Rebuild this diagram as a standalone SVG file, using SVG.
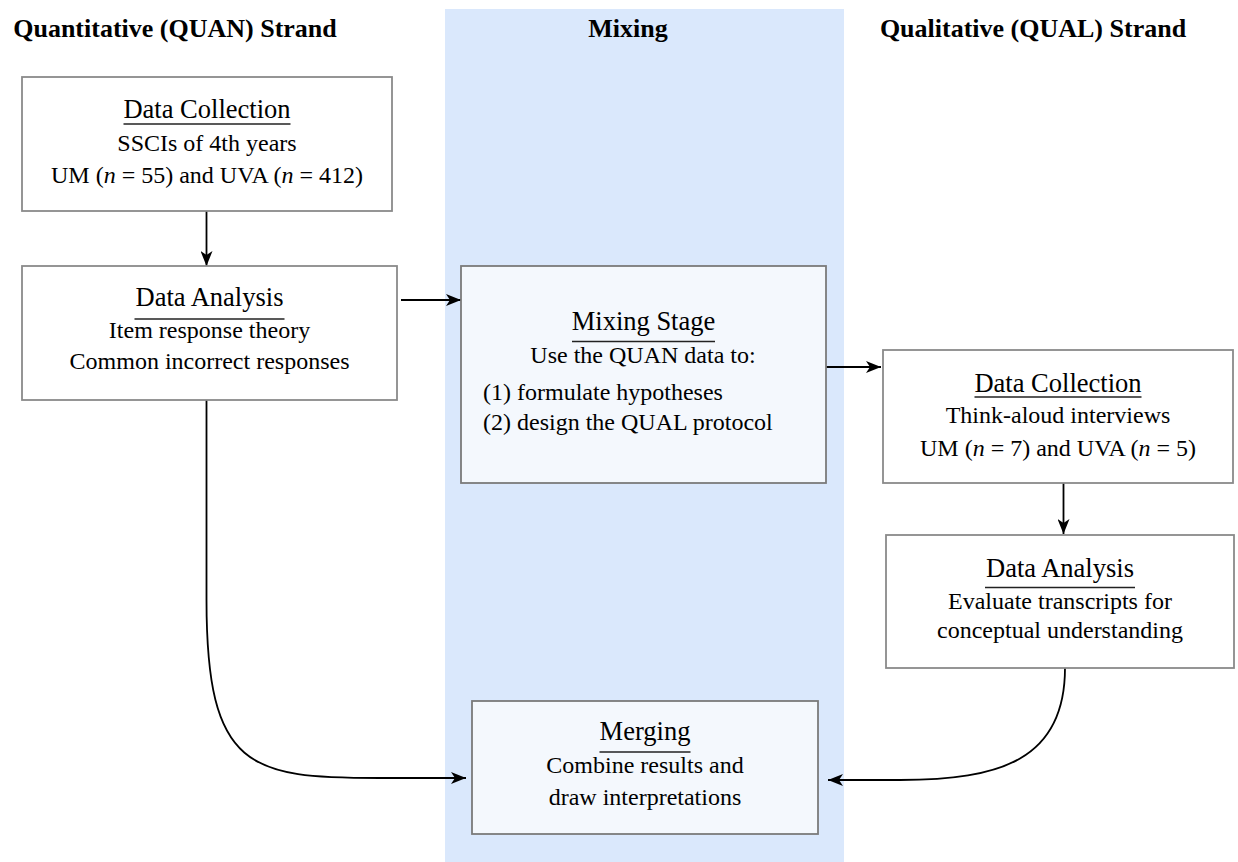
<svg xmlns="http://www.w3.org/2000/svg" width="1238" height="862" viewBox="0 0 1238 862">
  <style>
    .hdr { font-size: 26px; font-weight: bold; text-anchor: middle; }
    .ttl { font-size: 26.5px; text-anchor: middle; }
    .txt { font-size: 24px; text-anchor: middle; }
    .lst { font-size: 24px; text-anchor: start; }
    .box { fill: #ffffff; stroke: #8a8a8a; stroke-width: 1.8; }
    .box-mix { fill: #f4f8fd; stroke: #7a7a7a; stroke-width: 1.8; }
    .rule { stroke: #222; stroke-width: 1.5; }
    .edge { fill: none; stroke: #000; stroke-width: 1.8; marker-end: url(#arrow); }
    .it { font-style: italic; }
  </style>
  <defs>
    <marker id="arrow" viewBox="0 0 15 12" refX="15" refY="6" markerWidth="15" markerHeight="12" markerUnits="userSpaceOnUse" orient="auto">
      <path d="M0,0 L15,6 L0,12 L4,6 Z" fill="#000"/>
    </marker>
  </defs>

  <rect width="1238" height="862" fill="#ffffff"/>

  <!-- middle band -->
  <rect id="mixing-band" x="445" y="9" width="399" height="853" fill="#dae8fc"/>

  <g font-family="'Liberation Serif', 'DejaVu Serif', serif" fill="#000">
    <!-- column headers -->
    <g id="headers">
      <text class="hdr" x="175" y="37">Quantitative (QUAN) Strand</text>
      <text class="hdr" x="628" y="37">Mixing</text>
      <text class="hdr" x="1033" y="37">Qualitative (QUAL) Strand</text>
    </g>

    <!-- connectors -->
    <g id="connectors">
      <line class="edge" x1="206.5" y1="211" x2="206.5" y2="266"/>
      <line class="edge" x1="401" y1="300" x2="461" y2="300"/>
      <line class="edge" x1="826" y1="367" x2="881" y2="367"/>
      <line class="edge" x1="1063.5" y1="483" x2="1063.5" y2="534"/>
      <path class="edge" d="M206.5,400 L206.5,600 C206.5,770 250,778 380,778 L466,778"/>
      <path class="edge" d="M1065,668 C1065,760 1000,780 900,780 L828,780"/>
    </g>

    <g id="quan-collection">
      <rect class="box" x="22" y="77" width="370" height="134"/>
      <text class="ttl" x="207" y="118">Data Collection</text>
      <line class="rule" x1="123.5" y1="124" x2="290.5" y2="124"/>
      <text class="txt" x="207" y="151">SSCIs of 4th years</text>
      <text class="txt" x="207" y="183">UM (<tspan class="it">n</tspan> = 55) and UVA (<tspan class="it">n</tspan> = 412)</text>
    </g>

    <g id="quan-analysis">
      <rect class="box" x="22" y="266" width="375" height="134"/>
      <text class="ttl" x="209.5" y="306">Data Analysis</text>
      <line class="rule" x1="134.5" y1="319" x2="284.5" y2="319"/>
      <text class="txt" x="209.5" y="338">Item response theory</text>
      <text class="txt" x="209.5" y="369">Common incorrect responses</text>
    </g>

    <g id="mixing-stage">
      <rect class="box-mix" x="461" y="266" width="365" height="217"/>
      <text class="ttl" x="643.5" y="330">Mixing Stage</text>
      <line class="rule" x1="572" y1="341.5" x2="715" y2="341.5"/>
      <text class="txt" x="643" y="363">Use the QUAN data to:</text>
      <text class="lst" x="483" y="400">(1) formulate hypotheses</text>
      <text class="lst" x="483" y="430">(2) design the QUAL protocol</text>
    </g>

    <g id="qual-collection">
      <rect class="box" x="883" y="350" width="350" height="133"/>
      <text class="ttl" x="1058" y="392">Data Collection</text>
      <line class="rule" x1="974.5" y1="397" x2="1141.5" y2="397"/>
      <text class="txt" x="1058" y="423">Think-aloud interviews</text>
      <text class="txt" x="1058" y="456">UM (<tspan class="it">n</tspan> = 7) and UVA (<tspan class="it">n</tspan> = 5)</text>
    </g>

    <g id="qual-analysis">
      <rect class="box" x="886" y="535" width="348" height="133"/>
      <text class="ttl" x="1060" y="577">Data Analysis</text>
      <line class="rule" x1="985" y1="587.5" x2="1135" y2="587.5"/>
      <text class="txt" x="1060" y="609">Evaluate transcripts for</text>
      <text class="txt" x="1060" y="638">conceptual understanding</text>
    </g>

    <g id="merging">
      <rect class="box-mix" x="472" y="701" width="346" height="133"/>
      <text class="ttl" x="645" y="740">Merging</text>
      <line class="rule" x1="599.5" y1="752" x2="690.5" y2="752"/>
      <text class="txt" x="645" y="773">Combine results and</text>
      <text class="txt" x="645" y="805">draw interpretations</text>
    </g>
  </g>
</svg>
